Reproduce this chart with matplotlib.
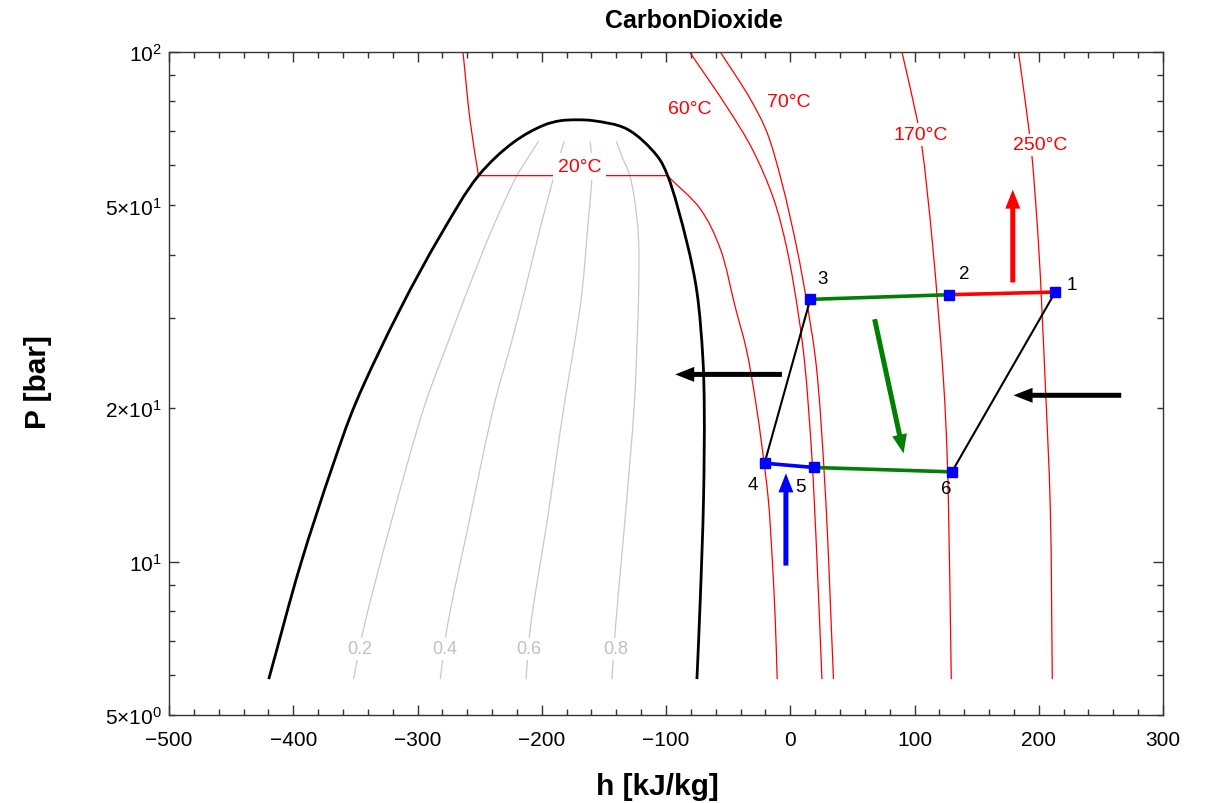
import numpy as np
import matplotlib
matplotlib.use("Agg")
import matplotlib.pyplot as plt
from matplotlib.path import Path
from matplotlib.patches import PathPatch
from matplotlib.ticker import FixedLocator, FuncFormatter, MultipleLocator

plt.rcParams["font.family"] = ["Liberation Sans", "DejaVu Sans"]
plt.rcParams["mathtext.fontset"] = "custom"
plt.rcParams["mathtext.rm"] = "Liberation Sans"
plt.rcParams["mathtext.it"] = "Liberation Sans:italic"
plt.rcParams["mathtext.bf"] = "Liberation Sans:bold"

# ---- saturation dome (liquid side -> critical region -> vapour side) ----
dome_h = [-419.7, -394.4, -368.2, -350.0, -313.9, -281.7, -250.9, -222.7, -198.6,
          -185.1, -171.7, -158.3, -131.4, -107.3, -98.7, -83.2, -75.1, -70.3,
          -69.2, -69.8, -72.4, -75.1]
dome_P = [5.88, 9.82, 15.43, 20.4, 31.3, 43.6, 57.2, 66.5, 71.8,
          73.3, 73.6, 73.3, 70.6, 62.6, 57.2, 42.3, 33.8, 25.0,
          19.9, 13.27, 8.45, 5.88]

# ---- lines of constant vapour quality ----
quality_values = [0.2, 0.4, 0.6, 0.8]
quality_P = [5.88, 7.38, 12.0, 20.4, 27.0, 33.8, 45.0, 57.2, 62.0, 66.8]
quality_h = [
    [-351.5, -343.4, -321.0, -293.8, -275.3, -260.2, -239.8, -220.0, -211.1, -202.6],
    [-281.7, -276.3, -258.4, -238.1, -224.3, -213.9, -201.4, -190.0, -186.0, -181.9],
    [-212.7, -209.3, -195.7, -181.8, -173.4, -167.6, -163.1, -159.6, -160.0, -161.0],
    [-143.5, -140.8, -133.1, -125.5, -123.3, -122.0, -122.6, -129.1, -135.0, -140.0],
]
quality_label_h = [-346.1, -278.2, -210.1, -140.8]
quality_label_P = 6.74

# ---- isotherms ----
iso_names = ["20°C", "60°C", "70°C", "170°C", "250°C"]
iso_h = [
    [-263.4, -257.5, -250.9, -99.0, -72.4, -56.3, -44.3, -35.4, -28.2, -22.5,
     -17.7, -14.5, -12.1, -10.5],
    [-81.0, -49.9, -30.6, -13.4, -2.7, 6.7, 11.7, 17.5, 21.5, 25.5],
    [-56.3, -32.2, -18.8, -6.8, 5.4, 13.3, 20.8, 28.2, 34.8],
    [89.9, 102.0, 106.0, 114.5, 123.4, 126.1, 127.4, 129.6],
    [183.7, 192.4, 194.5, 199.8, 205.2, 209.3, 210.9],
]
iso_P = [
    [100.0, 72.8, 57.2, 57.2, 49.2, 41.1, 31.6, 26.14, 20.85, 16.63,
     13.27, 10.12, 7.71, 5.88],
    [100.0, 77.3, 64.5, 51.5, 41.1, 30.4, 24.4, 15.9, 10.1, 5.88],
    [100.0, 80.9, 69.6, 55.5, 41.1, 32.3, 24.4, 13.7, 5.88],
    [100.0, 73.9, 65.1, 42.0, 22.5, 16.6, 12.7, 5.88],
    [100.0, 69.6, 62.6, 42.0, 22.5, 12.7, 5.88],
]
# indices where an isotherm has a sharp corner (meeting the dome)
iso_corners = [[2, 3], [], [], [], []]
iso_label_h = [-169.5, -80.5, -1.4, 104.6, 201.2]
iso_label_P = [59.6, 77.3, 79.9, 68.8, 65.7]
iso_label_on_line = [True, False, False, True, True]

# ---- cycle state points ----
state_names = ["1", "2", "3", "4", "5", "6"]
state_h = [213.3, 128.0, 16.1, -20.7, 18.8, 130.1]
state_P = [33.8, 33.4, 32.7, 15.6, 15.3, 15.0]
# (from, to, colour, width)
segments = [(0, 1, "#ff0000", 2.6), (1, 2, "#008000", 2.6), (2, 3, "black", 1.5),
            (3, 4, "#0000ff", 2.6), (4, 5, "#008000", 2.6), (5, 0, "black", 1.5)]
state_label_offset = [(17, 8), (15, 21), (12, 21), (-12, -21), (-13, -19), (-6, -17)]

# ---- heat / work arrows: (tail h, tail P, tip h, tip P, colour) ----
arrows = [
    (179.1, 35.3, 179.1, 53.7, "#ff0000"),
    (67.9, 29.9, 91.2, 16.3, "#008000"),
    (-6.7, 23.3, -92.6, 23.3, "black"),
    (266.4, 21.2, 179.7, 21.2, "black"),
    (-3.5, 9.82, -3.5, 14.9, "#0000ff"),
]

# rough screen scale of the axes (pixels per kJ/kg and per decade of P),
# used only so the curve parametrisation sees sensible distances
SX, SY = 1.2425, 509.6


def _controls(p0, p1, p2, p3, alpha=0.5):
    d1 = max(np.linalg.norm(p1 - p0), 1e-9) ** alpha
    d2 = max(np.linalg.norm(p2 - p1), 1e-9) ** alpha
    d3 = max(np.linalg.norm(p3 - p2), 1e-9) ** alpha
    c1 = (d1 ** 2 * p2 - d2 ** 2 * p0 + (2 * d1 ** 2 + 3 * d1 * d2 + d2 ** 2) * p1) / (3 * d1 * (d1 + d2))
    c2 = (d3 ** 2 * p1 - d2 ** 2 * p3 + (2 * d3 ** 2 + 3 * d3 * d2 + d2 ** 2) * p2) / (3 * d3 * (d3 + d2))
    return c1, c2


def smooth_path(h, P, corners=()):
    """Centripetal Catmull-Rom curve through the points, in (h, log P) space."""
    x = np.asarray(h, float) * SX
    y = np.log10(np.asarray(P, float)) * SY
    breaks = sorted(set([0, len(x) - 1, *corners]))
    verts, codes = [], []
    for a, b in zip(breaks[:-1], breaks[1:]):
        pts = np.column_stack([x[a:b + 1], y[a:b + 1]])
        if not verts:
            verts.append(pts[0])
            codes.append(Path.MOVETO)
        n = len(pts)
        for i in range(n - 1):
            p1, p2 = pts[i], pts[i + 1]
            p0 = pts[i - 1] if i > 0 else 2 * p1 - p2
            p3 = pts[i + 2] if i + 2 < n else 2 * p2 - p1
            c1, c2 = _controls(p0, p1, p2, p3)
            verts += [c1, c2, p2]
            codes += [Path.CURVE4] * 3
    v = np.array(verts)
    v[:, 0] = v[:, 0] / SX
    v[:, 1] = 10 ** (v[:, 1] / SY)
    return Path(v, codes)


def draw_curve(ax, h, P, color, lw, zorder, corners=()):
    ax.add_patch(PathPatch(smooth_path(h, P, corners), fill=False, ec=color,
                           lw=lw, zorder=zorder, joinstyle="round"))


fig = plt.figure(figsize=(12.1, 8.04), dpi=100)
ax = fig.add_axes([169 / 1210, 1 - 716 / 804, 994 / 1210, 663 / 804])
ax.set_yscale("log")
ax.set_xlim(-500, 300)
ax.set_ylim(5, 100)

# dome
draw_curve(ax, dome_h, dome_P, "black", 2.0, 3)

# quality lines
for hq in quality_h:
    draw_curve(ax, hq, quality_P, "#c8c8c8", 0.9, 1)
for q, hx in zip(quality_values, quality_label_h):
    ax.text(hx, quality_label_P, f"{q:.1f}", color="#c0c0c0", fontsize=13,
            ha="center", va="center", zorder=2,
            bbox=dict(boxstyle="square,pad=0.15", fc="white", ec="none"))

# isotherms
for name, hh, pp, cc, lh, lp, on in zip(iso_names, iso_h, iso_P, iso_corners,
                                          iso_label_h, iso_label_P, iso_label_on_line):
    draw_curve(ax, hh, pp, "#ff0000", 0.9, 2, cc)
    kw = {}
    if on:
        pad = 0.25 if name == "20°C" else 0.15
        kw["bbox"] = dict(boxstyle=f"square,pad={pad}", fc="white", ec="none")
    ax.text(lh, lp, name, color="#ff0000", fontsize=14, ha="center", va="center",
            zorder=2.5, **kw)

# cycle
for a, b, c, w in segments:
    ax.plot([state_h[a], state_h[b]], [state_P[a], state_P[b]], color=c, lw=w,
            zorder=5, solid_capstyle="butt")
ax.plot(state_h, state_P, ls="none", marker="s", ms=7, color="#0000ff", zorder=7)
for name, hh, pp, off in zip(state_names, state_h, state_P, state_label_offset):
    ax.annotate(name, xy=(hh, pp), xytext=off, textcoords="offset pixels",
                ha="center", va="center", fontsize=13.5, zorder=8)

# arrows
for th, tp, hh, hp, c in arrows:
    ax.annotate("", xy=(hh, hp), xytext=(th, tp),
                arrowprops=dict(arrowstyle="simple,head_length=1.37,head_width=1.08,tail_width=0.36",
                                fc=c, ec="none", lw=0, shrinkA=0, shrinkB=0,
                                mutation_scale=10),
                zorder=6)

# axes, ticks
ax.xaxis.set_major_locator(MultipleLocator(100))
ax.xaxis.set_minor_locator(MultipleLocator(20))
ax.yaxis.set_major_locator(FixedLocator([10, 100]))
ax.yaxis.set_minor_locator(FixedLocator([5, 6, 7, 8, 9, 20, 30, 40, 50, 60, 70, 80, 90]))

major_labels = {10: r"$10^{1}$", 100: r"$10^{2}$"}
minor_labels = {5: r"$5{\times}10^{0}$", 20: r"$2{\times}10^{1}$", 50: r"$5{\times}10^{1}$"}
ax.yaxis.set_major_formatter(FuncFormatter(lambda v, p: major_labels.get(int(round(v)), "")))
ax.yaxis.set_minor_formatter(FuncFormatter(lambda v, p: minor_labels.get(int(round(v)), "")))

ax.tick_params(which="both", direction="in", top=True, right=True, width=1,
               color="#333333", labelsize=15)
ax.tick_params(which="major", length=7)
ax.tick_params(which="minor", length=4)
ax.tick_params(axis="x", which="both", pad=11)
ax.tick_params(axis="y", which="both", pad=5)
for s in ax.spines.values():
    s.set_color("#333333")
    s.set_linewidth(1)

fig.text(694 / 1210, 1 - 28.3 / 804, "CarbonDioxide", ha="center", va="baseline",
         fontsize=18, fontweight="bold")
fig.text(657.5 / 1210, 1 - 795 / 804, "h [kJ/kg]", ha="center", va="baseline",
         fontsize=21.5, fontweight="bold")
fig.text(38 / 1210, 1 - 382.5 / 804, "P [bar]", rotation=90, ha="center", va="center",
         fontsize=21.5, fontweight="bold")

fig.savefig("out.png", dpi=100)
